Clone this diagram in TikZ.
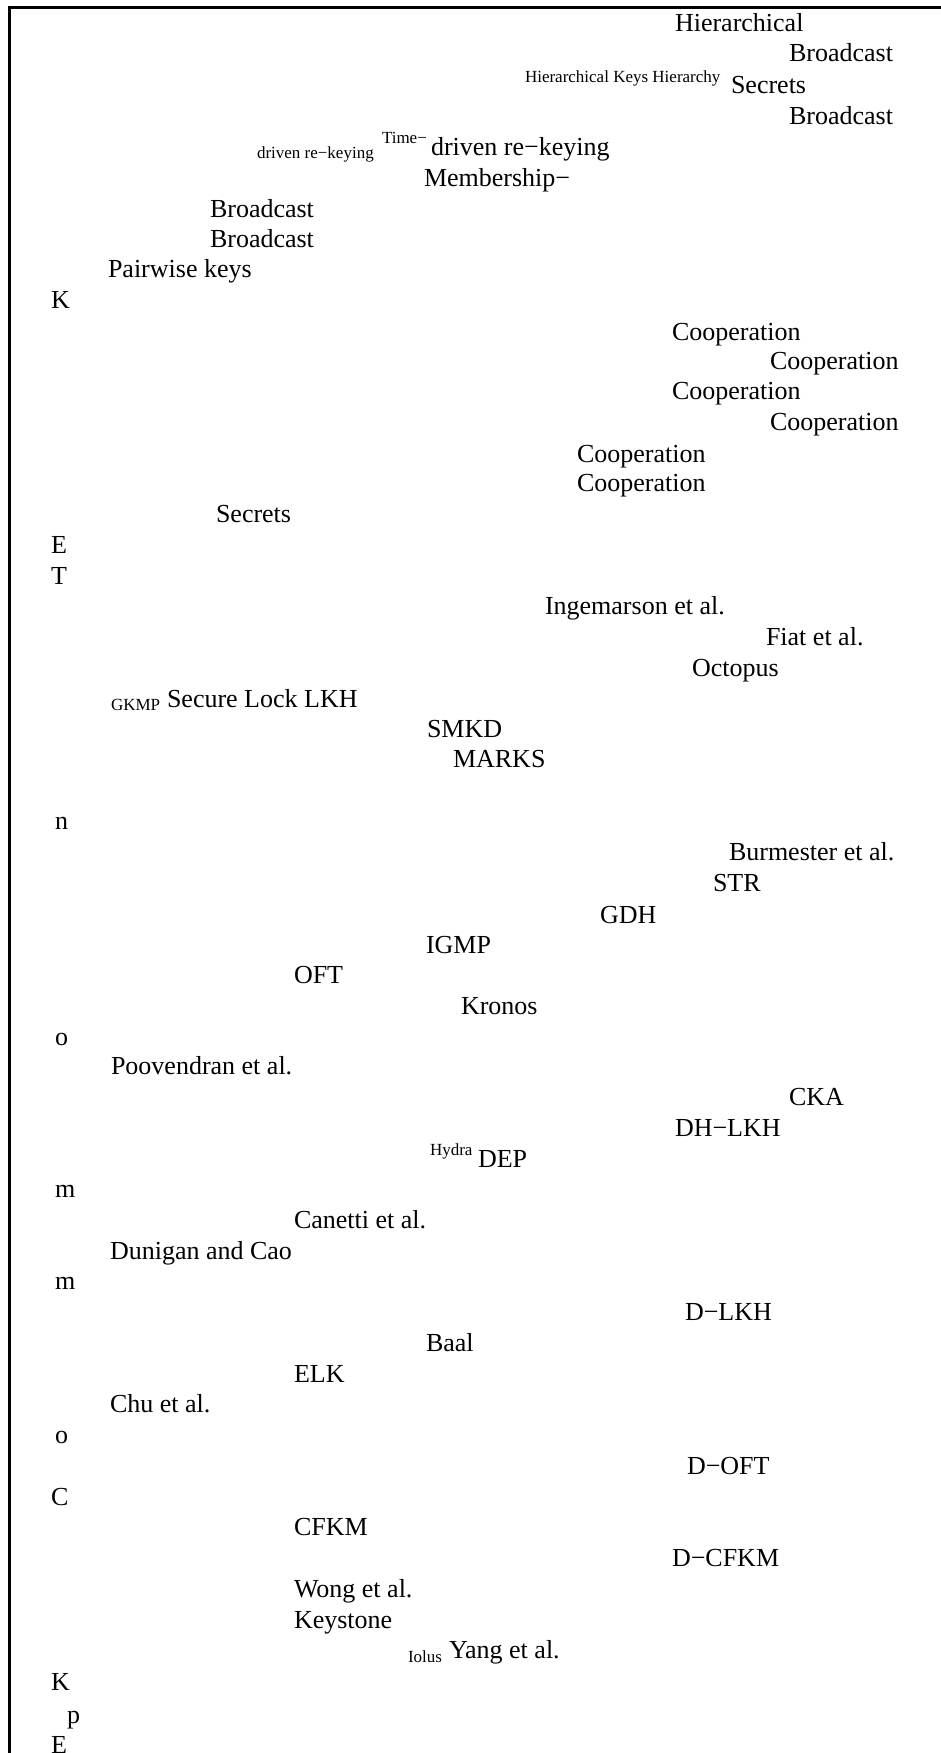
\documentclass[tikz,border=0pt]{standalone}
\usepackage{fontspec}
\setmainfont{Liberation Serif}
\begin{document}
\begin{tikzpicture}[x=1pt,y=-1pt,
  big/.style={font=\fontsize{26}{30}\selectfont, anchor=base west, inner sep=0pt, outer sep=0pt},
  sml/.style={font=\fontsize{17}{20}\selectfont, anchor=base west, inner sep=0pt, outer sep=0pt},
  frameline/.style={line width=3pt, line join=miter}]
\useasboundingbox (0,0) rectangle (941,1753);
\fill[white] (0,0) rectangle (941,1753);
\draw[frameline] (9.5,1760) -- (9.5,7.5) -- (950,7.5);
% large labels
\node[big] (t1) at (675,32) {Hierarchical};
\node[big] (t2) at (789,62) {Broadcast};
\node[big] (t3) at (731,93) {Secrets};
\node[big] (t4) at (789,124) {Broadcast};
\node[big] (t5) at (431,155) {driven re−keying};
\node[big] (t6) at (424,186) {Membership−};
\node[big] (t7) at (210,217) {Broadcast};
\node[big] (t8) at (210,247) {Broadcast};
\node[big] (t9) at (108,277) {Pairwise keys};
\node[big] (t10) at (51,308) {K};
\node[big] (t11) at (672,340) {Cooperation};
\node[big] (t12) at (770,369) {Cooperation};
\node[big] (t13) at (672,399) {Cooperation};
\node[big] (t14) at (770,430) {Cooperation};
\node[big] (t15) at (577,462) {Cooperation};
\node[big] (t16) at (577,491) {Cooperation};
\node[big] (t17) at (216,522) {Secrets};
\node[big] (t18) at (51,553) {E};
\node[big] (t19) at (51,584) {T};
\node[big] (t20) at (545,614) {Ingemarson et al.};
\node[big] (t21) at (766,645) {Fiat et al.};
\node[big] (t22) at (692,676) {Octopus};
\node[big] (t23) at (167,707) {Secure Lock LKH};
\node[big] (t24) at (427,737) {SMKD};
\node[big] (t25) at (453,767) {MARKS};
\node[big] (t26) at (55,829) {n};
\node[big] (t27) at (729,860) {Burmester et al.};
\node[big] (t28) at (713,891) {STR};
\node[big] (t29) at (600,923) {GDH};
\node[big] (t30) at (426,953) {IGMP};
\node[big] (t31) at (294,983) {OFT};
\node[big] (t32) at (461,1014) {Kronos};
\node[big] (t33) at (55,1045) {o};
\node[big] (t34) at (111,1074) {Poovendran et al.};
\node[big] (t35) at (789,1105) {CKA};
\node[big] (t36) at (675,1136) {DH−LKH};
\node[big] (t37) at (478,1167) {DEP};
\node[big] (t38) at (55,1197) {m};
\node[big] (t39) at (294,1228) {Canetti et al.};
\node[big] (t40) at (110,1259) {Dunigan and Cao};
\node[big] (t41) at (55,1289) {m};
\node[big] (t42) at (685,1320) {D−LKH};
\node[big] (t43) at (426,1351) {Baal};
\node[big] (t44) at (294,1382) {ELK};
\node[big] (t45) at (110,1412) {Chu et al.};
\node[big] (t46) at (55,1443) {o};
\node[big] (t47) at (687,1474) {D−OFT};
\node[big] (t48) at (51,1505) {C};
\node[big] (t49) at (294,1535) {CFKM};
\node[big] (t50) at (672,1566) {D−CFKM};
\node[big] (t51) at (294,1597) {Wong et al.};
\node[big] (t52) at (294,1628) {Keystone};
\node[big] (t53) at (449,1658) {Yang et al.};
\node[big] (t54) at (51,1690) {K};
\node[big] (t55) at (67,1723) {p};
\node[big] (t56) at (51,1753) {E};
% small labels
\node[sml] (s1) at (525,82) {Hierarchical Keys Hierarchy};
\node[sml] (s2) at (257,158) {driven re−keying};
\node[sml] (s3) at (382,143) {Time−};
\node[sml] (s4) at (111,710) {GKMP};
\node[sml] (s5) at (430,1155) {Hydra};
\node[sml] (s6) at (408,1662) {Iolus};
\end{tikzpicture}
\end{document}
